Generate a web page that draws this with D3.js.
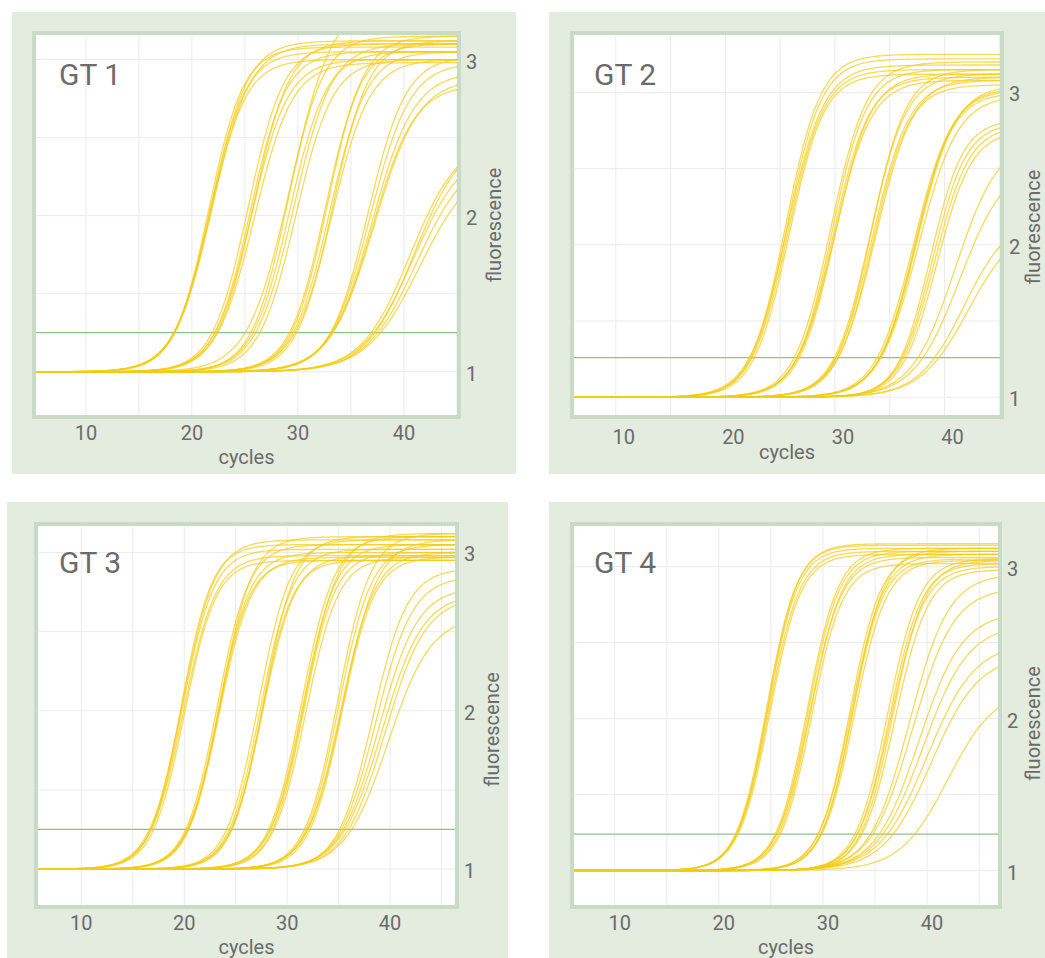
<!DOCTYPE html>
<html>
<head>
<meta charset="utf-8">
<script src="https://cdn.jsdelivr.net/npm/d3@7"></script>
<style>
  body { margin: 0; background: #ffffff; }
  svg { display: block; font-family: Roboto, "Noto Sans", sans-serif; }
</style>
</head>
<body>
<div id="chart"></div>
<script>
// one entry per well: cycle at half height, plateau fluorescence, slope (cycles)
const gt1Mid   = [21.6, 21.7, 21.8, 21.7, 21.9, 25.3, 25.5, 25.6, 25.8, 25.9, 29.0, 29.2, 29.3, 29.6, 29.8,
                  32.6, 32.8, 33.0, 33.2, 33.3, 36.6, 36.8, 37.0, 37.2, 37.0, 40.6, 40.9, 41.2, 41.5, 41.0];
const gt1Top   = [3.08, 3.05, 3.12, 3.00, 3.10, 3.10, 3.05, 3.00, 3.12, 2.98, 3.15, 3.05, 3.38, 3.10, 3.00,
                  3.10, 3.15, 3.05, 3.00, 3.12, 3.02, 2.98, 2.92, 2.88, 2.84, 2.50, 2.45, 2.40, 2.35, 2.52];
const gt1Slope = [1.65, 1.70, 1.75, 1.70, 1.80, 1.70, 1.70, 1.75, 1.70, 1.80, 1.70, 1.75, 2.00, 1.80, 1.75,
                  1.70, 1.70, 1.75, 1.80, 1.70, 1.80, 1.90, 2.00, 2.10, 2.00, 2.30, 2.40, 2.40, 2.50, 2.30];

const gt2Mid   = [25.5, 25.6, 25.7, 25.8, 25.6, 29.6, 29.7, 29.8, 29.9, 30.0, 33.2, 33.4, 33.5, 33.7, 33.3,
                  37.2, 37.3, 37.5, 37.6, 37.4, 38.7, 38.9, 39.1, 39.3, 41.0, 41.4, 41.8, 42.2];
const gt2Top   = [3.25, 3.22, 3.15, 3.12, 3.18, 3.20, 3.15, 3.10, 3.08, 3.12, 3.12, 3.08, 3.05, 3.10, 3.15,
                  3.02, 3.00, 3.05, 2.98, 3.03, 2.82, 2.80, 2.78, 2.75, 2.70, 2.55, 2.20, 2.15];
const gt2Slope = [1.60, 1.60, 1.65, 1.60, 1.70, 1.65, 1.60, 1.65, 1.70, 1.65, 1.65, 1.70, 1.65, 1.75, 1.60,
                  1.75, 1.70, 1.75, 1.80, 1.70, 1.50, 1.55, 1.60, 1.60, 2.00, 2.10, 2.10, 2.20];

const gt3Mid   = [19.7, 19.8, 19.9, 20.0, 19.8, 23.2, 23.3, 23.4, 23.5, 23.3, 27.2, 27.4, 27.6, 27.7, 27.5,
                  31.4, 31.5, 31.6, 31.8, 31.7, 34.9, 35.0, 35.2, 35.3, 35.4, 38.3, 38.6, 38.9, 39.2, 39.5, 39.8];
const gt3Top   = [3.05, 3.02, 2.98, 2.95, 3.08, 3.05, 3.00, 2.97, 3.10, 2.95, 3.08, 3.02, 2.98, 3.10, 2.95,
                  3.10, 3.05, 3.00, 2.97, 3.12, 3.12, 3.05, 3.00, 2.97, 3.08, 2.90, 2.85, 2.78, 2.74, 2.72, 2.60];
const gt3Slope = [1.50, 1.55, 1.60, 1.55, 1.60, 1.55, 1.55, 1.60, 1.55, 1.50, 1.55, 1.55, 1.60, 1.55, 1.50,
                  1.60, 1.60, 1.55, 1.60, 1.65, 1.60, 1.60, 1.65, 1.60, 1.70, 1.70, 1.80, 1.90, 2.00, 2.00, 2.10];

const gt4Mid   = [24.6, 24.7, 24.8, 24.7, 24.9, 28.5, 28.6, 28.7, 28.8, 28.9, 32.6, 32.7, 32.8, 32.9, 33.0,
                  36.2, 36.4, 36.5, 36.7, 36.9, 38.3, 38.6, 39.2, 39.6, 40.0, 40.4, 42.0];
const gt4Top   = [3.14, 3.12, 3.10, 3.15, 3.08, 3.12, 3.10, 3.06, 3.08, 3.02, 3.10, 3.08, 3.05, 3.12, 3.04,
                  3.05, 3.02, 3.00, 3.04, 2.98, 2.95, 2.86, 2.70, 2.62, 2.50, 2.42, 2.20];
const gt4Slope = [1.45, 1.45, 1.50, 1.45, 1.50, 1.50, 1.50, 1.55, 1.50, 1.50, 1.50, 1.55, 1.50, 1.50, 1.55,
                  1.55, 1.55, 1.60, 1.55, 1.60, 1.90, 2.00, 2.10, 2.20, 2.30, 2.30, 2.30];

const panelNames = ["GT 1", "GT 2", "GT 3", "GT 4"];
const thresholds = [1.25, 1.26, 1.25, 1.24];
const baseline = 1.0;
const cycleDomains = [[5.1, 45.2], [6.0, 45.25], [5.6, 46.5], [5.9, 47.0]];
const fluorDomains = [[0.71, 3.17], [0.87, 3.39], [0.76, 3.18], [0.76, 3.28]];
const cycleTicks = [10, 20, 30, 40];
const cycleGrid = [5, 10, 15, 20, 25, 30, 35, 40, 45];
const fluorTicks = [1, 2, 3];
const fluorGrid = [1, 1.5, 2, 2.5, 3];

const wells = [
  {mid: gt1Mid, top: gt1Top, slope: gt1Slope},
  {mid: gt2Mid, top: gt2Top, slope: gt2Slope},
  {mid: gt3Mid, top: gt3Top, slope: gt3Slope},
  {mid: gt4Mid, top: gt4Top, slope: gt4Slope}
];

// pixel boxes for every panel: background card and plotting area
const layout = [
  {bg: [12, 12, 504, 462],  plot: [34, 33, 425, 384],  title: [59, 85],   tickDx: 0, tickDy: 23, capDy: 47, fluoDx: 42, fluoDy: 0},
  {bg: [549, 12, 520, 462], plot: [572, 33, 430, 384], title: [594, 85],  tickDx: 8, tickDy: 27, capDy: 42, fluoDx: 38, fluoDy: 2},
  {bg: [7, 502, 501, 470],  plot: [36, 524, 421, 383], title: [59, 573],  tickDx: 0, tickDy: 23, capDy: 47, fluoDx: 42, fluoDy: 14},
  {bg: [549, 502, 520, 470],plot: [572, 524, 428, 383],title: [594, 573], tickDx: 5, tickDy: 23, capDy: 47, fluoDx: 40, fluoDy: 8}
];

const W = 1045, H = 958;
const textColor = "#6b6b6b";

const svg = d3.select("#chart").append("svg")
    .attr("width", W)
    .attr("height", H);

function amplification(c, mid, top, s) {
  return baseline + (top - baseline) / (1 + Math.exp(-(c - mid) / s));
}

layout.forEach((L, p) => {
  const [px, py, pw, ph] = L.plot;
  const x = d3.scaleLinear().domain(cycleDomains[p]).range([px, px + pw]);
  const y = d3.scaleLinear().domain(fluorDomains[p]).range([py + ph, py]);

  const g = svg.append("g").attr("class", "panel");

  g.append("rect")
      .attr("x", L.bg[0]).attr("y", L.bg[1])
      .attr("width", L.bg[2]).attr("height", L.bg[3])
      .attr("fill", "#e3ecdf");

  g.append("rect")
      .attr("x", px).attr("y", py)
      .attr("width", pw).attr("height", ph)
      .attr("fill", "#ffffff");

  const clipId = "clip" + p;
  g.append("clipPath").attr("id", clipId)
    .append("rect")
      .attr("x", px).attr("y", py)
      .attr("width", pw).attr("height", ph);

  const inner = g.append("g").attr("clip-path", "url(#" + clipId + ")");

  // grid
  inner.selectAll(".vgrid")
    .data(cycleGrid)
    .join("line")
      .attr("x1", d => x(d)).attr("x2", d => x(d))
      .attr("y1", py).attr("y2", py + ph)
      .attr("stroke", "#ebebeb")
      .attr("stroke-width", 1);

  inner.selectAll(".hgrid")
    .data(fluorGrid)
    .join("line")
      .attr("x1", px).attr("x2", px + pw)
      .attr("y1", d => y(d)).attr("y2", d => y(d))
      .attr("stroke", "#ebebeb")
      .attr("stroke-width", 1);

  // threshold
  inner.append("line")
      .attr("x1", px).attr("x2", px + pw)
      .attr("y1", y(thresholds[p])).attr("y2", y(thresholds[p]))
      .attr("stroke", "#8fc08f")
      .attr("stroke-width", 1.3);

  // curves
  const w = wells[p];
  const cycles = d3.range(cycleDomains[p][0], cycleDomains[p][1] + 0.2, 0.2);
  const line = d3.line()
      .x(d => x(d[0]))
      .y(d => y(d[1]))
      .curve(d3.curveMonotoneX);

  const curves = w.mid.map((m, i) => cycles.map(c => [c, amplification(c, m, w.top[i], w.slope[i])]));

  inner.selectAll(".curve")
    .data(curves)
    .join("path")
      .attr("class", "curve")
      .attr("d", line)
      .attr("fill", "none")
      .attr("stroke", "#f5ca12")
      .attr("stroke-opacity", 0.7)
      .attr("stroke-width", 1.3);

  // plot frame
  g.append("rect")
      .attr("x", px).attr("y", py)
      .attr("width", pw).attr("height", ph)
      .attr("fill", "none")
      .attr("stroke", "#c8dbc6")
      .attr("stroke-width", 4);

  // title
  g.append("text")
      .attr("x", L.title[0]).attr("y", L.title[1])
      .attr("fill", textColor)
      .style("font-size", "30px")
      .text(panelNames[p]);

  // x tick labels
  g.selectAll(".xtick")
    .data(cycleTicks)
    .join("text")
      .attr("x", d => x(d) + L.tickDx)
      .attr("y", py + ph + L.tickDy)
      .attr("text-anchor", "middle")
      .attr("fill", textColor)
      .style("font-size", "20px")
      .text(d => d);

  g.append("text")
      .attr("x", px + pw / 2)
      .attr("y", py + ph + L.capDy)
      .attr("text-anchor", "middle")
      .attr("fill", textColor)
      .style("font-size", "20px")
      .text("cycles");

  // y tick labels on the right
  g.selectAll(".ytick")
    .data(fluorTicks)
    .join("text")
      .attr("x", px + pw + 7)
      .attr("y", d => y(d) + 9)
      .attr("fill", textColor)
      .style("font-size", "20px")
      .text(d => d);

  g.append("text")
      .attr("transform", "translate(" + (px + pw + L.fluoDx) + "," + (py + ph / 2 + L.fluoDy) + ") rotate(-90)")
      .attr("text-anchor", "middle")
      .attr("fill", textColor)
      .style("font-size", "20px")
      .text("fluorescence");
});
</script>
</body>
</html>
